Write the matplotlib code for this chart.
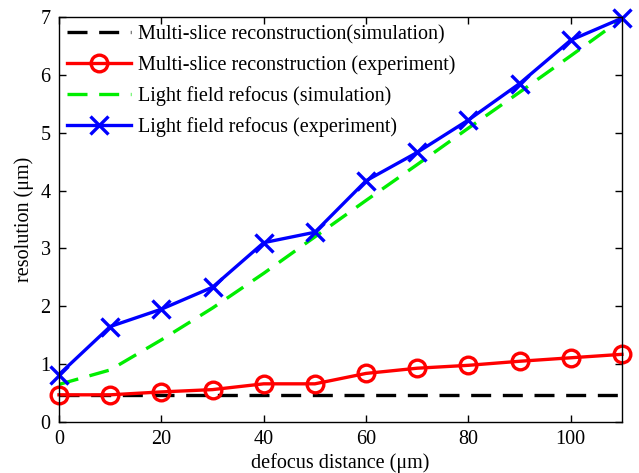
import matplotlib
matplotlib.use('Agg')
from matplotlib import pyplot as plt

defocus = [0, 10, 20, 30, 40, 50, 60, 70, 80, 90, 100, 110]
ms_sim = [0.47] * 12
ms_exp = [0.47, 0.47, 0.52, 0.56, 0.66, 0.66, 0.84, 0.93, 0.98, 1.05, 1.11, 1.17]
lf_sim = [0.65, 0.9, 1.42, 1.97, 2.57, 3.2, 3.83, 4.45, 5.08, 5.7, 6.33, 6.97]
lf_exp = [0.82, 1.65, 1.95, 2.33, 3.1, 3.28, 4.17, 4.66, 5.22, 5.85, 6.6, 6.98]

plt.rcParams['font.family'] = ['Liberation Serif', 'DejaVu Serif']
plt.rcParams['font.size'] = 14.5

fig = plt.figure(figsize=(6.39, 4.73), dpi=100)
ax = fig.add_axes([0.0923, 0.1078, 0.881, 0.8562])

lw = 2.4
ax.plot(defocus, ms_sim, c='black', lw=lw, dashes=(6, 3.5),
        label="Multi-slice reconstruction(simulation)")
ax.plot(defocus, ms_exp, c='red', lw=lw, marker='o', ms=12, mfc='none', mew=2.4,
        clip_on=False, label="Multi-slice reconstruction (experiment)")
ax.plot(defocus, lf_sim, c='#00ee00', lw=lw, dashes=(6, 3.5),
        label="Light field refocus (simulation)")
ax.plot(defocus, lf_exp, c='blue', lw=lw, marker='x', ms=13, mew=2.4,
        clip_on=False, label="Light field refocus (experiment)")

ax.set_xlim(0, 110)
ax.set_ylim(0, 7)
ax.set_xticks(range(0, 101, 20))
ax.set_yticks(range(0, 8))
ax.tick_params(direction='in', top=True, right=True, length=5, width=1, pad=6)
for s in ax.spines.values():
    s.set_linewidth(1)

ax.set_xlabel("defocus distance (μm)", labelpad=3)
ax.set_ylabel("resolution (μm)", labelpad=5)

ax.legend(loc='upper left', frameon=False, handlelength=3.2, handletextpad=0.3,
          labelspacing=0.55, borderaxespad=0.2, borderpad=0.2)

fig.savefig('out.png', dpi=100)
